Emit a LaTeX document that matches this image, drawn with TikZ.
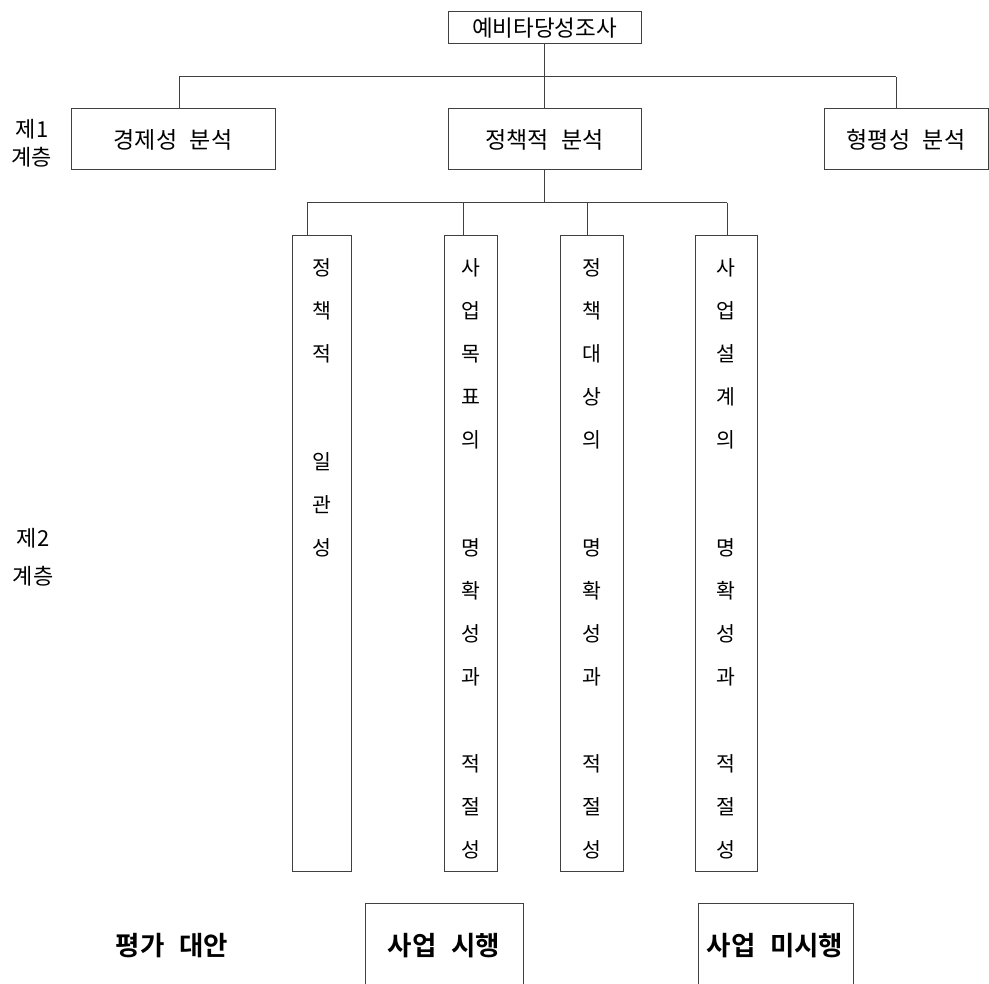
\documentclass[tikz,border=0pt]{standalone}
\usepackage{fontspec}
\setmainfont{Noto Sans CJK KR}[BoldFont={Noto Sans CJK KR Bold}]
\newcommand{\wsp}{\hspace{0.55em}}
\tikzset{
  ln/.style={draw=black!75, line width=1pt},
  box/.style={ln, rectangle, inner sep=0pt},
  ttop/.style={font=\fontsize{22.5}{26}\selectfont, inner sep=0pt},
  t22/.style={font=\fontsize{23}{27}\selectfont, inner sep=0pt},
  tlab/.style={font=\fontsize{22}{26}\selectfont, inner sep=0pt},
  t20/.style={font=\fontsize{20.5}{24}\selectfont, inner sep=0pt},
  tb/.style={font=\fontsize{26.5}{30}\selectfont\bfseries, inner sep=0pt},
}
\begin{document}
\begin{tikzpicture}[x=1pt,y=-1pt]
\useasboundingbox (0,0) rectangle (989,984);
% level 0 and 1
\node[box, minimum width=193pt, minimum height=32pt, ttop] (top) at (544.5,28) {예비타당성조사};
\node[box, minimum width=204pt, minimum height=61pt, t22] (eco) at (173,139.5) {경제성\wsp 분석};
\node[box, minimum width=193pt, minimum height=61pt, t22] (pol) at (544.5,139.5) {정책적\wsp 분석};
\node[box, minimum width=164pt, minimum height=61pt, t22] (equ) at (906,139.5) {형평성\wsp 분석};
\node[tlab] (lab1a) at (32,129) {제1};
\node[tlab] (lab1b) at (32,157) {계층};
\coordinate (h1L) at (179,77);
\coordinate (h1R) at (896,77);
\draw[ln] (h1L) -- (h1R);
\draw[ln] (h1L) -- (h1L |- eco.north);
\draw[ln] (h1R) -- (h1R |- equ.north);
\draw[ln] (top.south) -- (pol.north);
% level 2 boxes
\node[box, minimum width=59pt, minimum height=635pt] (b1) at (321.5,553.5) {};
\node[box, minimum width=53pt, minimum height=635pt] (b2) at (471,553.5) {};
\node[box, minimum width=63pt, minimum height=635pt] (b3) at (591.5,553.5) {};
\node[box, minimum width=62pt, minimum height=635pt] (b4) at (726,553.5) {};
\coordinate (hub) at (544.5,203);
\coordinate (d1) at (307,203);
\coordinate (d2) at (463,203);
\coordinate (d3) at (587,203);
\coordinate (d4) at (727,203);
\draw[ln] (pol.south) -- (hub);
\draw[ln] (d1) -- (d4);
\draw[ln] (d1) -- (d1 |- b1.north);
\draw[ln] (d2) -- (d2 |- b2.north);
\draw[ln] (d3) -- (d3 |- b3.north);
\draw[ln] (d4) -- (d4 |- b4.north);
\node[tlab] (lab2a) at (33,538) {제2};
\node[tlab] (lab2b) at (33,576) {계층};
% vertical texts
\foreach \c/\y [count=\i] in {정/268,책/311,적/354,일/462,관/505,성/548}
  \node[t20] (c1-\i) at (321.5,\y) {\c};
\foreach \c/\y [count=\i] in {사/268,업/311,목/354,표/397,의/440,명/548,확/591,성/634,과/677,적/764,절/807,성/850}
  \node[t20] (c2-\i) at (471,\y) {\c};
\foreach \c/\y [count=\i] in {정/268,책/311,대/354,상/397,의/440,명/548,확/591,성/634,과/677,적/764,절/807,성/850}
  \node[t20] (c3-\i) at (591.5,\y) {\c};
\foreach \c/\y [count=\i] in {사/268,업/311,설/354,계/397,의/440,명/548,확/591,성/634,과/677,적/764,절/807,성/850}
  \node[t20] (c4-\i) at (726,\y) {\c};
% bottom
\node[tb] (alt) at (172,946) {평가\wsp 대안};
\node[tb] (yes) at (444,946) {사업\wsp 시행};
\node[tb] (no) at (775,946) {사업\wsp 미시행};
\coordinate (yA) at (365,984); \coordinate (yB) at (365,903);
\coordinate (yC) at (523,903); \coordinate (yD) at (523,984);
\draw[ln] (yA) -- (yB) -- (yC) -- (yD);
\coordinate (nA) at (698,984); \coordinate (nB) at (698,903);
\coordinate (nC) at (853,903); \coordinate (nD) at (853,984);
\draw[ln] (nA) -- (nB) -- (nC) -- (nD);
\end{tikzpicture}
\end{document}
